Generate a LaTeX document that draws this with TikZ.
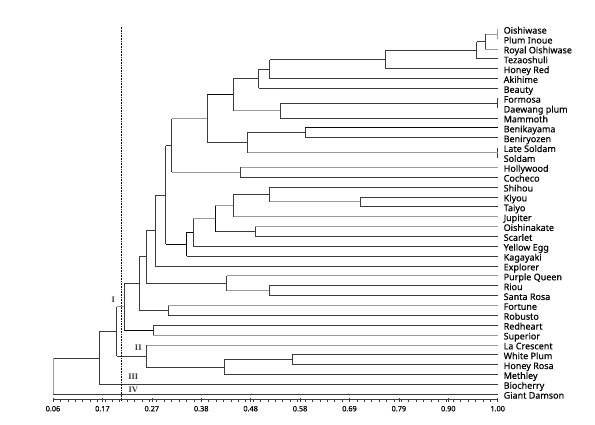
\documentclass[tikz,border=0pt]{standalone}
\usepackage{fontspec}
\setmainfont{Noto Sans}[FakeBold=0.35]
\newfontfamily\lblfont{Noto Sans}[FakeBold=0.35]
\newfontfamily\romfont{Liberation Serif}
\definecolor{dk}{HTML}{3C3C3C}
\definecolor{lg}{HTML}{9C9C9C}
\definecolor{bk}{HTML}{0A0A0A}
\newcommand\mrg[6]{%
  \draw[#4] (#2) -- (#2 -| #1);
  \draw[#5] (#3) -- (#3 -| #1);
  \draw[#6] (#2 -| #1) -- (#3 -| #1);}
\begin{document}
\begin{tikzpicture}[x=1pt,y=-1pt,
  d/.style={draw=dk,line width=0.85pt},
  g/.style={draw=lg,line width=0.95pt},
  k/.style={draw=bk,line width=0.9pt},
  leaf/.style={inner sep=0pt,font=\lblfont\fontsize{9}{10}\selectfont,text=black},
  axlab/.style={inner sep=0pt,font=\lblfont\fontsize{7.3}{8}\selectfont,text=black},
  rom/.style={inner sep=0pt,font=\romfont\bfseries\fontsize{8.5}{9}\selectfont,text=dk},
  tick/.style={draw=dk,line width=0.6pt},
  cutline/.style={draw=bk,line width=0.6pt,densely dotted}]
\useasboundingbox (0,0) rectangle (595,425);
% leaves
\foreach \t [count=\i from 0] in {Oishiwase,Plum Inoue,Royal Oishiwase,Tezaoshuli,Honey Red,Akihime,Beauty,Formosa,Daewang plum,Mammoth,Benikayama,Beniryozen,Late Soldam,Soldam,Hollywood,Cocheco,Shihou,Kiyou,Taiyo,Jupiter,Oishinakate,Scarlet,Yellow Egg,Kagayaki,Explorer,Purple Queen,Riou,Santa Rosa,Fortune,Robusto,Redheart,Superior,La Crescent,White Plum,Honey Rosa,Methley,Biocherry,Giant Damson}{
  \coordinate (l\i) at (497.7,{29.3+9.865*\i});
  \node[leaf,anchor=base west] (t\i) at (503.5,{33.6+9.865*\i}) {\t};
}
% internal nodes
\coordinate (n1) at (497.7,34.24);
\coordinate (n2) at (485.3,41.63);
\coordinate (n3) at (476.5,50.27);
\coordinate (n4) at (385.7,59.51);
\coordinate (n5) at (269.7,69.07);
\coordinate (n6) at (258.7,78.78);
\coordinate (n7) at (497.7,103.29);
\coordinate (n8) at (280.3,110.69);
\coordinate (n9) at (233.0,94.73);
\coordinate (n10) at (305.3,132.88);
\coordinate (n11) at (497.7,152.62);
\coordinate (n12) at (247.3,142.75);
\coordinate (n13) at (207.3,118.74);
\coordinate (n14) at (240.0,172.35);
\coordinate (n15) at (171.7,145.54);
\coordinate (n16) at (360.3,201.94);
\coordinate (n17) at (269.5,194.54);
\coordinate (n18) at (233.3,205.64);
\coordinate (n19) at (255.3,231.54);
\coordinate (n20) at (215.0,218.59);
\coordinate (n21) at (193.3,232.46);
\coordinate (n22) at (186.7,244.33);
\coordinate (n23) at (165.7,194.94);
\coordinate (n24) at (155.3,230.50);
\coordinate (n25) at (269.0,290.73);
\coordinate (n26) at (226.7,283.33);
\coordinate (n27) at (146.0,256.92);
\coordinate (n28) at (168.3,310.46);
\coordinate (n29) at (139.0,283.69);
\coordinate (n30) at (153.3,330.19);
\coordinate (n31) at (124.3,306.94);
\coordinate (n32) at (292.3,359.78);
\coordinate (n33) at (224.3,367.18);
\coordinate (n34) at (146.3,356.08);
\coordinate (n35) at (116.7,331.51);
\coordinate (n36) at (99.3,357.98);
\coordinate (n37) at (53.0,376.15);
% merges
\mrg{n1}{l0}{l1}{g}{g}{g}
\mrg{n2}{n1}{l2}{g}{g}{d}
\mrg{n3}{n2}{l3}{d}{d}{d}
\mrg{n4}{n3}{l4}{d}{d}{d}
\mrg{n5}{n4}{l5}{d}{d}{d}
\mrg{n6}{n5}{l6}{d}{d}{d}
\mrg{n7}{l7}{l8}{g}{g}{d}
\mrg{n8}{n7}{l9}{d}{d}{d}
\mrg{n9}{n6}{n8}{d}{g}{d}
\mrg{n10}{l10}{l11}{k}{d}{d}
\mrg{n11}{l12}{l13}{d}{d}{d}
\mrg{n12}{n10}{n11}{d}{g}{d}
\mrg{n13}{n9}{n12}{k}{d}{d}
\mrg{n14}{l14}{l15}{g}{d}{d}
\mrg{n15}{n13}{n14}{g}{g}{d}
\mrg{n16}{l17}{l18}{d}{d}{d}
\mrg{n17}{l16}{n16}{d}{g}{d}
\mrg{n18}{n17}{l19}{d}{g}{d}
\mrg{n19}{l20}{l21}{g}{d}{d}
\mrg{n20}{n18}{n19}{g}{d}{k}
\mrg{n21}{n20}{l22}{g}{d}{d}
\mrg{n22}{n21}{l23}{k}{d}{k}
\mrg{n23}{n15}{n22}{d}{k}{d}
\mrg{n24}{n23}{l24}{d}{d}{d}
\mrg{n25}{l26}{l27}{d}{d}{d}
\mrg{n26}{l25}{n25}{g}{g}{d}
\mrg{n27}{n24}{n26}{d}{d}{d}
\mrg{n28}{l28}{l29}{g}{d}{d}
\mrg{n29}{n27}{n28}{d}{d}{d}
\mrg{n30}{l30}{l31}{d}{g}{d}
\mrg{n31}{n29}{n30}{d}{k}{d}
\mrg{n32}{l33}{l34}{d}{d}{d}
\mrg{n33}{n32}{l35}{d}{d}{d}
\mrg{n34}{l32}{n33}{g}{d}{d}
\mrg{n35}{n31}{n34}{g}{d}{d}
\mrg{n36}{n35}{l36}{d}{d}{d}
\mrg{n37}{n36}{l37}{d}{d}{g}
% cut line
\coordinate (ctop) at (121.0,26.7);
\coordinate (cbot) at (121.0,400.5);
\draw[cutline] (ctop) -- (cbot);
% axis
\coordinate (ax0) at (53.0,399.3);
\coordinate (ax1) at (497.7,399.3);
\draw[tick] (ax0) -- (ax1);
\foreach \j in {0,...,60}{
  \draw[tick] ({53+\j*7.41167},399.3) -- ++(0,2.2);
}
\foreach \v [count=\k from 0] in {0.06,0.17,0.27,0.38,0.48,0.58,0.69,0.79,0.90,1.00}{
  \draw[tick] ({53+\k*49.4111},397.8) -- ++(0,4.2);
  \node[axlab,anchor=base] (a\k) at ({53+\k*49.4111},411.3) {\v};
}
% cluster labels
\node[rom] (r1) at (113.3,299.5) {I};
\node[rom] (r2) at (138.3,347.8) {II};
\node[rom] (r3) at (133.3,376.6) {III};
\node[rom] (r4) at (133.3,389.3) {IV};
\end{tikzpicture}
\end{document}
